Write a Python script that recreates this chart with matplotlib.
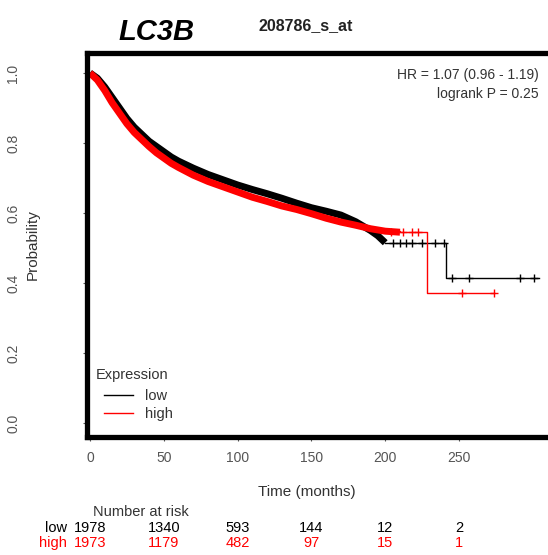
import numpy as np
import matplotlib
matplotlib.use("Agg")
import matplotlib.pyplot as plt
from matplotlib.lines import Line2D
from matplotlib.transforms import blended_transform_factory

plt.rcParams['font.family'] = ['Liberation Sans', 'DejaVu Sans']

# survival curves (months, probability)
low_t = [0, 5, 10, 15, 20, 25, 30, 35, 40, 45, 50, 55, 60, 70, 80, 90, 100, 110,
         120, 130, 140, 150, 160, 170, 180, 190, 195, 200, 241, 304]
low_s = [1.0, 0.985, 0.96, 0.93, 0.90, 0.87, 0.845, 0.825, 0.805, 0.79, 0.775, 0.76,
         0.748, 0.728, 0.71, 0.695, 0.68, 0.667, 0.655, 0.642, 0.628, 0.615, 0.605,
         0.594, 0.575, 0.55, 0.535, 0.515, 0.415, 0.415]
high_t = [0, 5, 10, 15, 20, 25, 30, 35, 40, 45, 50, 55, 60, 70, 80, 90, 100, 110,
          120, 130, 140, 150, 160, 170, 180, 190, 200, 210, 228, 274]
high_s = [1.0, 0.98, 0.95, 0.915, 0.885, 0.855, 0.83, 0.81, 0.79, 0.772, 0.757, 0.742,
          0.73, 0.708, 0.69, 0.675, 0.66, 0.645, 0.633, 0.62, 0.61, 0.598, 0.585,
          0.574, 0.565, 0.555, 0.548, 0.545, 0.37, 0.37]

# censoring marks in the sparse tail
low_cens_t = [205, 210, 214, 218, 225, 234, 240, 245, 257, 291, 301]
low_cens_s = [0.515, 0.515, 0.515, 0.515, 0.515, 0.515, 0.515, 0.415, 0.415, 0.415, 0.415]
high_cens_t = [204, 212, 218, 222, 252, 274]
high_cens_s = [0.545, 0.545, 0.545, 0.545, 0.37, 0.37]

risk_times = [0, 50, 100, 150, 200, 250]
risk_low = [1978, 1340, 593, 144, 12, 2]
risk_high = [1973, 1179, 482, 97, 15, 1]

W, H = 548, 555
fig = plt.figure(figsize=(W / 100, H / 100), dpi=100)
ax = fig.add_axes([87 / W, (H - 437) / H, 468 / W, 384 / H])

lt, ls = np.array(low_t), np.array(low_s)
ht, hs = np.array(high_t), np.array(high_s)

# dense part: many small steps + censor marks -> looks like a thick smooth band
m = lt <= 200
ax.plot(lt[m], ls[m], color='black', lw=5, solid_capstyle='butt')
ax.step(lt[lt >= 200], ls[lt >= 200], where='post', color='black', lw=1.0)
ax.plot(low_cens_t, low_cens_s, '+', color='black', ms=6, mew=1)

m = ht <= 210
ax.plot(ht[m], hs[m], color='red', lw=5, solid_capstyle='butt')
ax.step(ht[ht >= 200], hs[ht >= 200], where='post', color='red', lw=1.0)
ax.plot(high_cens_t, high_cens_s, '+', color='red', ms=6, mew=1)

ax.set_xlim(-2, 315)
ax.set_ylim(-0.04, 1.057)
for s in ax.spines.values():
    s.set_linewidth(3.8)
ax.set_xticks(risk_times)
ax.set_yticks([0, 0.2, 0.4, 0.6, 0.8, 1.0])
ax.set_yticklabels(['0.0', '0.2', '0.4', '0.6', '0.8', '1.0'], rotation=90, va='center')
ax.tick_params(axis='x', length=3, pad=7, labelsize=10, colors='#555555')
ax.tick_params(axis='y', length=3, pad=45, labelsize=10, colors='#555555')

ax.set_xlabel('Time (months)', fontsize=11, color='#333333')
ax.xaxis.set_label_coords(0.47, -0.143)
ax.xaxis.label.set_va('center')
ax.set_ylabel('Probability', fontsize=11, color='#333333')
ax.yaxis.set_label_coords(-0.115, 0.5)
ax.yaxis.label.set_va('center')

# legend: title sits a bit left of the entries, as in R
fig.text(96 / W, 1 - 375 / H, 'Expression', ha='left', va='center',
         fontsize=10.5, color='#333333')
handles = [Line2D([], [], color='black', lw=1), Line2D([], [], color='red', lw=1)]
leg = fig.legend(handles, ['low', 'high'], loc='upper left',
                 bbox_to_anchor=(104 / W, 1 - 389 / H), frameon=False, fontsize=10.5,
                 handlelength=2.0, handletextpad=0.8, labelspacing=0.25,
                 borderpad=0, borderaxespad=0)
for t in leg.get_texts():
    t.set_color('#333333')

fig.text(539 / W, 1 - 75 / H, 'HR = 1.07 (0.96 - 1.19)', ha='right', va='center',
         fontsize=10, color='#333333')
fig.text(539 / W, 1 - 94 / H, 'logrank P = 0.25', ha='right', va='center',
         fontsize=10, color='#333333')

fig.text(156 / W, 1 - 32 / H, 'LC3B', ha='center', va='center', fontsize=21,
         fontweight='bold', fontstyle='italic')
fig.text(306 / W, 1 - 26 / H, '208786_s_at', ha='center', va='center', fontsize=11.5,
         fontweight='bold', color='#222222')

# number at risk table
tr = blended_transform_factory(ax.transData, fig.transFigure)
fig.text(141 / W, 1 - 512 / H, 'Number at risk', ha='center', va='center',
         fontsize=10.5, color='#333333')
fig.text(67 / W, 1 - 528 / H, 'low', ha='right', va='center', fontsize=10.5, color='black')
fig.text(67 / W, 1 - 543 / H, 'high', ha='right', va='center', fontsize=10.5, color='red')
for t, a, b in zip(risk_times, risk_low, risk_high):
    ax.text(t, 1 - 528 / H, str(a), transform=tr, ha='center', va='center',
            fontsize=10.5, color='black')
    ax.text(t, 1 - 543 / H, str(b), transform=tr, ha='center', va='center',
            fontsize=10.5, color='red')

fig.savefig('out.png', dpi=100)
